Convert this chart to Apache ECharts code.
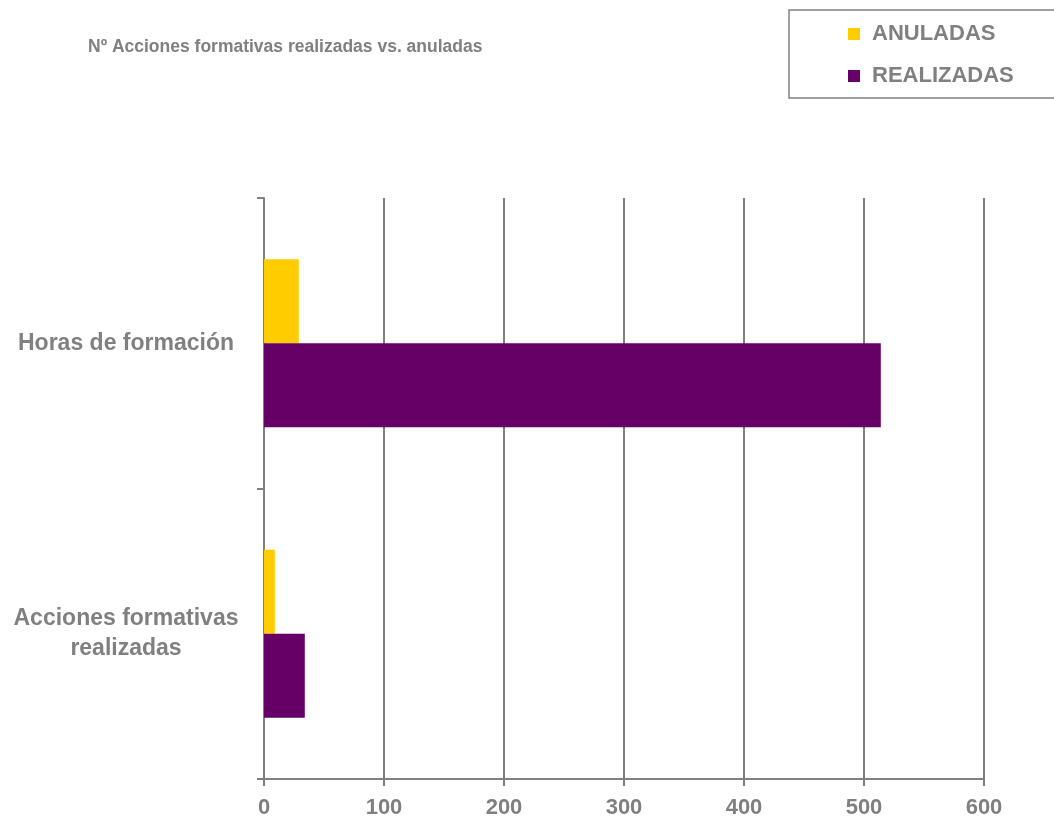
<!DOCTYPE html>
<html>
<head>
<meta charset="utf-8">
<script src="https://cdn.jsdelivr.net/npm/echarts@6/dist/echarts.min.js"></script>
<style>html,body{margin:0;padding:0;background:#fff;}#c{width:1054px;height:827px;}</style>
</head>
<body>
<div id="c"></div>
<script>
var categories = ['Acciones formativas\nrealizadas', 'Horas de formación'];
var anuladas = [9, 29];
var realizadas = [34, 514];
var xTicks = {min: 0, max: 600, interval: 100};

var gray = '#808080';
var font = 'Liberation Sans, Arial, sans-serif';
var chart = echarts.init(document.getElementById('c'));
chart.setOption({
  animation: false,
  title: {
    text: 'Nº Acciones formativas realizadas vs. anuladas',
    left: 83, top: 33,
    textStyle: {color: gray, fontSize: 17.5, fontWeight: 'bold', fontFamily: font}
  },
  graphic: [{
    type: 'rect', shape: {x: 789, y: 10, width: 300, height: 88},
    style: {fill: 'none', stroke: gray, lineWidth: 1.5}
  }],
  legend: {
    orient: 'vertical', left: 843, top: 18,
    itemWidth: 12, itemHeight: 12, itemGap: 20, icon: 'rect',
    data: ['ANULADAS', 'REALIZADAS'],
    textStyle: {color: gray, fontSize: 22, fontWeight: 'bold', fontFamily: font, padding: [0, 0, 0, 7]}
  },
  grid: {left: 264, right: 70, top: 198, bottom: 48, containLabel: false},
  xAxis: {
    type: 'value', min: xTicks.min, max: xTicks.max, interval: xTicks.interval,
    axisLine: {show: true, lineStyle: {color: gray, width: 2}},
    axisTick: {show: true, length: 7, lineStyle: {color: gray, width: 2}},
    splitLine: {show: true, lineStyle: {color: gray, width: 2}},
    axisLabel: {color: gray, fontSize: 22, fontWeight: 'bold', fontFamily: font, margin: 18}
  },
  yAxis: {
    type: 'category', data: categories,
    axisLine: {show: true, lineStyle: {color: gray, width: 2}},
    axisTick: {show: true, length: 7, lineStyle: {color: gray, width: 2}},
    axisLabel: {color: gray, fontSize: 23, fontWeight: 'bold', fontFamily: font, align: 'center', margin: 138, lineHeight: 30}
  },
  series: [
    {name: 'ANULADAS', type: 'bar', data: anuladas, barWidth: 84, barGap: '0%',
     itemStyle: {color: '#FFCC00'}},
    {name: 'REALIZADAS', type: 'bar', data: realizadas, barWidth: 84, barGap: '0%',
     itemStyle: {color: '#660066'}}
  ]
});
</script>
</body>
</html>
